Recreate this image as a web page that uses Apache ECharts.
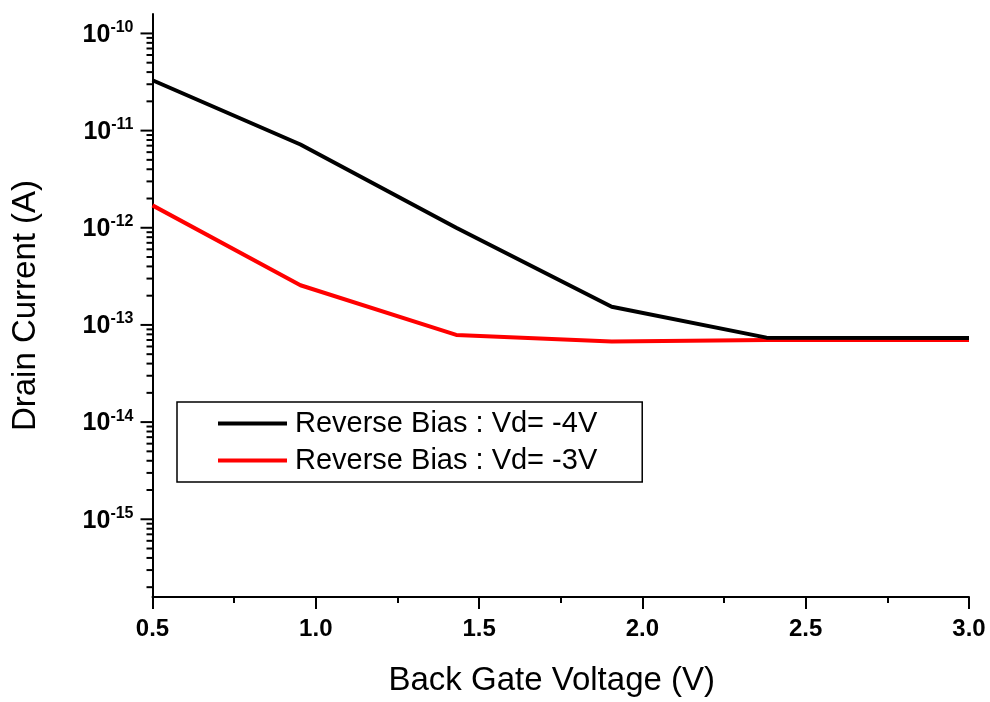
<!DOCTYPE html>
<html>
<head>
<meta charset="utf-8">
<script src="https://cdn.jsdelivr.net/npm/echarts@6/dist/echarts.min.js"></script>
<style>
  html, body { margin: 0; padding: 0; background: #fff; }
  #chart { width: 990px; height: 702px; }
</style>
</head>
<body>
<div id="chart"></div>
<script>
// Back gate voltage sweep (V)
const gateVoltage = [0.5, 0.953, 1.43, 1.906, 2.38, 3.0];
// Drain current (A) for each drain bias
const currentVd4 = [3.3e-11, 7.2e-12, 1.0e-12, 1.54e-13, 7.4e-14, 7.35e-14];
const currentVd3 = [1.7e-12, 2.56e-13, 7.9e-14, 6.75e-14, 7.0e-14, 7.0e-14];
const seriesNames = ['Reverse Bias : Vd= -4V', 'Reverse Bias : Vd= -3V'];
// Axis ranges
const xRange = [0.5, 3.0];
const yRange = [Math.pow(10, -15.8), Math.pow(10, -9.8)];

const FONT = "'Liberation Sans', Arial, sans-serif";

// tick marks on the log axis: decades (long) and 2..9 multiples (short)
const logTicks = [];
for (let e = -16; e <= -10; e++) {
  for (let m = 1; m <= 9; m++) {
    const v = m * Math.pow(10, e);
    if (v > yRange[0] * 1.0001 && v < yRange[1]) logTicks.push([xRange[0], v, m === 1 ? 12 : 6]);
  }
}

const chart = echarts.init(document.getElementById('chart'), null, { renderer: 'canvas' });

chart.setOption({
  backgroundColor: '#fff',
  animation: false,
  grid: { left: 152.5, right: 21, top: 14, bottom: 99, containLabel: false },
  legend: {
    orient: 'vertical',
    left: 177,
    top: 402,
    data: seriesNames,
    icon: 'rect',
    itemWidth: 69,
    itemHeight: 4,
    itemGap: 4,
    padding: [5, 45, 5, 41],
    borderColor: '#000',
    borderWidth: 1.5,
    borderRadius: 0,
    textStyle: { fontFamily: FONT, fontSize: 29, color: '#000', lineHeight: 33, padding: [0, 0, 0, 3] }
  },
  xAxis: {
    type: 'value',
    min: xRange[0],
    max: xRange[1],
    interval: 0.5,
    name: 'Back Gate Voltage (V)',
    nameLocation: 'middle',
    nameGap: 67,
    nameTextStyle: { fontFamily: FONT, fontSize: 33, color: '#000', padding: [0, 18, 0, 0] },
    axisLine: { show: true, lineStyle: { color: '#000', width: 2 } },
    axisTick: { show: true, inside: false, length: 12, lineStyle: { color: '#000', width: 2 } },
    minorTick: { show: true, splitNumber: 2, length: 6, lineStyle: { color: '#000', width: 2 } },
    splitLine: { show: false },
    minorSplitLine: { show: false },
    axisLabel: {
      margin: 20,
      fontFamily: FONT, fontSize: 24, fontWeight: 'bold', color: '#000',
      formatter: v => v.toFixed(1)
    }
  },
  yAxis: {
    type: 'log',
    logBase: 10,
    min: yRange[0],
    max: yRange[1],
    name: 'Drain Current (A)',
    nameLocation: 'middle',
    nameGap: 110,
    nameTextStyle: { fontFamily: FONT, fontSize: 33, color: '#000' },
    axisLine: { show: true, lineStyle: { color: '#000', width: 2 } },
    axisTick: { show: false },
    splitLine: { show: false },
    axisLabel: {
      margin: 19,
      showMinLabel: false,
      showMaxLabel: false,
      formatter: v => {
        const e = Math.log10(v);
        if (Math.abs(e - Math.round(e)) > 1e-6) return '';
        return '{b|10}{s|' + Math.round(e) + '}';
      },
      rich: {
        b: { fontFamily: FONT, fontSize: 25, fontWeight: 'bold', color: '#000', verticalAlign: 'bottom', lineHeight: 28 },
        s: { fontFamily: FONT, fontSize: 16, fontWeight: 'bold', color: '#000', verticalAlign: 'top', padding: [0, 0, 12, 0] }
      }
    }
  },
  series: [
    {
      name: seriesNames[0],
      type: 'line',
      data: gateVoltage.map((x, i) => [x, currentVd4[i]]),
      showSymbol: false,
      symbol: 'none',
      lineStyle: { color: '#000', width: 4 },
      itemStyle: { color: '#000' },
      z: 3
    },
    {
      name: seriesNames[1],
      type: 'line',
      data: gateVoltage.map((x, i) => [x, currentVd3[i]]),
      showSymbol: false,
      symbol: 'none',
      lineStyle: { color: '#ff0000', width: 4 },
      itemStyle: { color: '#ff0000' },
      z: 2
    },
    {
      // tick marks on the logarithmic current axis
      type: 'custom',
      silent: true,
      clip: false,
      data: logTicks,
      renderItem: (params, api) => {
        const p = api.coord([api.value(0), api.value(1)]);
        const len = api.value(2);
        return {
          type: 'line',
          shape: { x1: p[0] - len, y1: p[1], x2: p[0], y2: p[1] },
          style: { stroke: '#000', lineWidth: 2 }
        };
      },
      z: 4
    }
  ]
});
</script>
</body>
</html>
